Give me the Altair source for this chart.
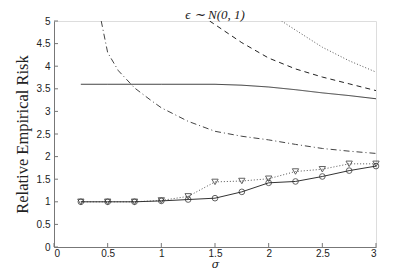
import altair as alt
import pandas as pd

# marker series (sigma grid)
sigma = [0.25, 0.5, 0.75, 1.0, 1.25, 1.5, 1.75, 2.0, 2.25, 2.5, 2.75, 3.0]
circ_vals = [1.0, 1.0, 1.0, 1.02, 1.05, 1.08, 1.22, 1.42, 1.45, 1.56, 1.69, 1.79]
tri_vals = [1.0, 1.0, 1.0, 1.03, 1.12, 1.44, 1.46, 1.51, 1.67, 1.72, 1.84, 1.84]

# curve series
solid_x = [0.25, 0.5, 1.0, 1.5, 1.75, 2.0, 2.25, 2.5, 2.75, 3.0]
solid_y = [3.6, 3.6, 3.6, 3.6, 3.58, 3.54, 3.48, 3.41, 3.35, 3.28]

dashed_x = [1.45, 1.5, 1.75, 2.0, 2.25, 2.5, 2.75, 3.0]
dashed_y = [5.0, 4.92, 4.52, 4.18, 3.94, 3.76, 3.61, 3.46]

dotted_x = [2.12, 2.25, 2.5, 2.75, 3.0]
dotted_y = [5.0, 4.8, 4.42, 4.12, 3.87]

dashdot_x = [0.44, 0.5, 0.6, 0.75, 0.9, 1.0, 1.25, 1.5, 1.75, 2.0, 2.25, 2.5, 2.75, 3.0]
dashdot_y = [5.0, 4.3, 3.9, 3.52, 3.25, 3.08, 2.78, 2.56, 2.45, 2.37, 2.27, 2.18, 2.12, 2.07]

x_ticks = [0.0, 0.5, 1.0, 1.5, 2.0, 2.5, 3.0]
y_ticks = [0.0, 0.5, 1.0, 1.5, 2.0, 2.5, 3.0, 3.5, 4.0, 4.5, 5.0]

markers = pd.DataFrame({"sigma": sigma, "circ": circ_vals, "tri": tri_vals})

xs = alt.Scale(domain=[0, 3], nice=False)
ys = alt.Scale(domain=[0, 5], nice=False)
xaxis = alt.Axis(values=x_ticks, title="σ", tickSize=0,
                 labelFont="Liberation Sans", labelFontSize=10, labelPadding=1, labelColor="#222",
                 labelOverlap=False, labelExpr="datum.value",
                 titleFont="DejaVu Serif", titleFontStyle="italic", titleFontWeight="normal",
                 titleFontSize=11, titlePadding=0, titleColor="#222", domainColor="#777", grid=False)
yaxis = alt.Axis(values=y_ticks, title="Relative Empirical Risk", tickSize=0,
                 labelFont="Liberation Sans", labelFontSize=10, labelPadding=4, labelColor="#222",
                 labelOverlap=False, labelExpr="datum.value", labelFlush=False,
                 titleFont="Liberation Serif", titleFontWeight="normal", titleFontSize=16.5,
                 titlePadding=6, titleColor="#222", domainColor="#777", grid=False)

def enc(chart, xf, yf):
    return chart.encode(x=alt.X(xf, scale=xs, axis=xaxis), y=alt.Y(yf, scale=ys, axis=yaxis))

def curve(xv, yv, dash, color="#222"):
    df = pd.DataFrame({"x": xv, "y": yv})
    return enc(alt.Chart(df).mark_line(color=color, strokeWidth=1, strokeDash=dash, clip=True), "x:Q", "y:Q")

solid = curve(solid_x, solid_y, [1, 0], "#333")
dashed = curve(dashed_x, dashed_y, [5, 4])
dotted = curve(dotted_x, dotted_y, [1, 2], "#555")
dashdot = curve(dashdot_x, dashdot_y, [6, 3, 1, 3], "#444")

base = alt.Chart(markers)
circ_line = enc(base.mark_line(color="#333", strokeWidth=1), "sigma:Q", "circ:Q")
circ_pts = enc(base.mark_point(shape="circle", filled=False, color="#222", size=32, strokeWidth=1),
               "sigma:Q", "circ:Q")
tri_line = enc(base.mark_line(color="#555", strokeWidth=1, strokeDash=[1, 2]), "sigma:Q", "tri:Q")
tri_pts = enc(base.mark_point(shape="triangle-down", filled=False, color="#222", size=40, strokeWidth=1),
              "sigma:Q", "tri:Q")

# inward ticks
ytick_df = pd.DataFrame({"t": y_ticks})
xtick_df = pd.DataFrame({"t": x_ticks})
yticks = alt.Chart(ytick_df).mark_rule(color="#777", strokeWidth=1).encode(
    y=alt.Y("t:Q", scale=ys, axis=yaxis), x=alt.value(0), x2=alt.value(4))
xticks = alt.Chart(xtick_df).mark_rule(color="#777", strokeWidth=1).encode(
    x=alt.X("t:Q", scale=xs, axis=xaxis), y=alt.value(226), y2=alt.value(222))

chart = alt.layer(solid, dashed, dotted, dashdot, tri_line, circ_line, tri_pts, circ_pts, yticks, xticks).properties(
    width=322, height=226,
    title=alt.Title("ϵ ∼ N(0, 1)", font="Liberation Serif", fontSize=13, fontStyle="italic",
                    fontWeight="normal", color="#222", offset=-6),
    autosize=alt.AutoSizeParams(type="none"),
    padding={"left": 46, "top": 13, "right": 31, "bottom": 22},
).configure_view(stroke=None).configure(background="white")

chart.save("out.html", embed_options={"renderer": "svg", "actions": False})
